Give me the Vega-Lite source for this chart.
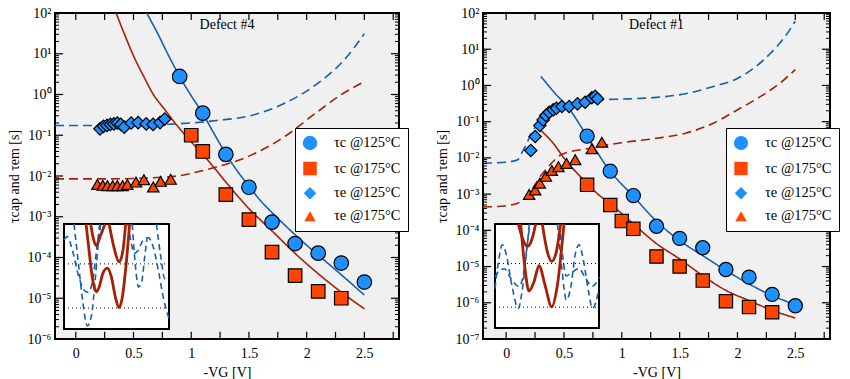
{
"$schema":"https://vega.github.io/schema/vega-lite/v6.json",
"background":"white",
"padding":{"left":6,"top":5,"right":5,"bottom":2},
"config":{
 "font":"Liberation Serif",
 "view":{"fill":"#f0f0f0","stroke":"black","strokeWidth":2},
 "axis":{"domain":false,"grid":false,"ticks":false,"labelColor":"black","titleColor":"black","labelFont":"Liberation Serif","titleFont":"Liberation Serif","labelFontSize":14,"titleFontSize":14,"titleFontWeight":"normal"},
 "legend":{"labelFont":"Liberation Serif"}
},
"datasets":{
 "xt":[{"t":0},{"t":0.25},{"t":0.5},{"t":0.75},{"t":1},{"t":1.25},{"t":1.5},{"t":1.75},{"t":2},{"t":2.25},{"t":2.5},{"t":2.75}],
 "yt":[
  {"t":1e-7,"kind":"major"},{"t":1e-6,"kind":"major"},{"t":1e-5,"kind":"major"},{"t":1e-4,"kind":"major"},{"t":1e-3,"kind":"major"},{"t":1e-2,"kind":"major"},{"t":0.1,"kind":"major"},{"t":1,"kind":"major"},{"t":10,"kind":"major"},{"t":100,"kind":"major"},
  {"t":2e-7,"kind":"minor"},{"t":3e-7,"kind":"minor"},{"t":4e-7,"kind":"minor"},{"t":5e-7,"kind":"minor"},{"t":6e-7,"kind":"minor"},{"t":7e-7,"kind":"minor"},{"t":8e-7,"kind":"minor"},{"t":9e-7,"kind":"minor"},
  {"t":2e-6,"kind":"minor"},{"t":3e-6,"kind":"minor"},{"t":4e-6,"kind":"minor"},{"t":5e-6,"kind":"minor"},{"t":6e-6,"kind":"minor"},{"t":7e-6,"kind":"minor"},{"t":8e-6,"kind":"minor"},{"t":9e-6,"kind":"minor"},
  {"t":2e-5,"kind":"minor"},{"t":3e-5,"kind":"minor"},{"t":4e-5,"kind":"minor"},{"t":5e-5,"kind":"minor"},{"t":6e-5,"kind":"minor"},{"t":7e-5,"kind":"minor"},{"t":8e-5,"kind":"minor"},{"t":9e-5,"kind":"minor"},
  {"t":2e-4,"kind":"minor"},{"t":3e-4,"kind":"minor"},{"t":4e-4,"kind":"minor"},{"t":5e-4,"kind":"minor"},{"t":6e-4,"kind":"minor"},{"t":7e-4,"kind":"minor"},{"t":8e-4,"kind":"minor"},{"t":9e-4,"kind":"minor"},
  {"t":2e-3,"kind":"minor"},{"t":3e-3,"kind":"minor"},{"t":4e-3,"kind":"minor"},{"t":5e-3,"kind":"minor"},{"t":6e-3,"kind":"minor"},{"t":7e-3,"kind":"minor"},{"t":8e-3,"kind":"minor"},{"t":9e-3,"kind":"minor"},
  {"t":0.02,"kind":"minor"},{"t":0.03,"kind":"minor"},{"t":0.04,"kind":"minor"},{"t":0.05,"kind":"minor"},{"t":0.06,"kind":"minor"},{"t":0.07,"kind":"minor"},{"t":0.08,"kind":"minor"},{"t":0.09,"kind":"minor"},
  {"t":0.2,"kind":"minor"},{"t":0.3,"kind":"minor"},{"t":0.4,"kind":"minor"},{"t":0.5,"kind":"minor"},{"t":0.6,"kind":"minor"},{"t":0.7,"kind":"minor"},{"t":0.8,"kind":"minor"},{"t":0.9,"kind":"minor"},
  {"t":2,"kind":"minor"},{"t":3,"kind":"minor"},{"t":4,"kind":"minor"},{"t":5,"kind":"minor"},{"t":6,"kind":"minor"},{"t":7,"kind":"minor"},{"t":8,"kind":"minor"},{"t":9,"kind":"minor"},
  {"t":20,"kind":"minor"},{"t":30,"kind":"minor"},{"t":40,"kind":"minor"},{"t":50,"kind":"minor"},{"t":60,"kind":"minor"},{"t":70,"kind":"minor"},{"t":80,"kind":"minor"},{"t":90,"kind":"minor"}
 ],
 "pts4":[
  {"series":"τc @125°C","x":0.9,"y":2.77},{"series":"τc @125°C","x":1.1,"y":0.35},{"series":"τc @125°C","x":1.3,"y":0.034},{"series":"τc @125°C","x":1.5,"y":0.0053},{"series":"τc @125°C","x":1.7,"y":0.00074},{"series":"τc @125°C","x":1.9,"y":0.00022},{"series":"τc @125°C","x":2.1,"y":0.000128},{"series":"τc @125°C","x":2.3,"y":0.000073},{"series":"τc @125°C","x":2.5,"y":0.000025},
  {"series":"τc @175°C","x":1.0,"y":0.1},{"series":"τc @175°C","x":1.1,"y":0.04},{"series":"τc @175°C","x":1.3,"y":0.0035},{"series":"τc @175°C","x":1.5,"y":0.00085},{"series":"τc @175°C","x":1.7,"y":0.000135},{"series":"τc @175°C","x":1.9,"y":0.000036},{"series":"τc @175°C","x":2.1,"y":0.0000147},{"series":"τc @175°C","x":2.3,"y":0.00001},
  {"series":"τe @125°C","x":0.21,"y":0.144},{"series":"τe @125°C","x":0.24,"y":0.166},{"series":"τe @125°C","x":0.27,"y":0.174},{"series":"τe @125°C","x":0.3,"y":0.184},{"series":"τe @125°C","x":0.33,"y":0.19},{"series":"τe @125°C","x":0.36,"y":0.2},{"series":"τe @125°C","x":0.39,"y":0.184},{"series":"τe @125°C","x":0.42,"y":0.158},{"series":"τe @125°C","x":0.48,"y":0.2},{"series":"τe @125°C","x":0.54,"y":0.204},{"series":"τe @125°C","x":0.61,"y":0.19},{"series":"τe @125°C","x":0.67,"y":0.184},{"series":"τe @125°C","x":0.73,"y":0.205},{"series":"τe @125°C","x":0.77,"y":0.25},
  {"series":"τe @175°C","x":0.187,"y":0.0062},{"series":"τe @175°C","x":0.234,"y":0.0059},{"series":"τe @175°C","x":0.274,"y":0.0058},{"series":"τe @175°C","x":0.32,"y":0.0058},{"series":"τe @175°C","x":0.36,"y":0.0058},{"series":"τe @175°C","x":0.406,"y":0.0058},{"series":"τe @175°C","x":0.447,"y":0.0062},{"series":"τe @175°C","x":0.522,"y":0.0071},{"series":"τe @175°C","x":0.59,"y":0.0081},{"series":"τe @175°C","x":0.671,"y":0.0054},{"series":"τe @175°C","x":0.735,"y":0.0074},{"series":"τe @175°C","x":0.822,"y":0.0083}
 ],
 "lines4":[
  {"temp":"125","proc":"c","x":0.614,"y":100},{"temp":"125","proc":"c","x":0.7,"y":35.5},{"temp":"125","proc":"c","x":0.8,"y":9.5},{"temp":"125","proc":"c","x":0.9,"y":2.75},{"temp":"125","proc":"c","x":1.0,"y":0.93},{"temp":"125","proc":"c","x":1.1,"y":0.34},{"temp":"125","proc":"c","x":1.2,"y":0.107},{"temp":"125","proc":"c","x":1.3,"y":0.035},{"temp":"125","proc":"c","x":1.4,"y":0.0132},{"temp":"125","proc":"c","x":1.5,"y":0.0056},{"temp":"125","proc":"c","x":1.6,"y":0.0025},{"temp":"125","proc":"c","x":1.74,"y":0.00098},{"temp":"125","proc":"c","x":2.0,"y":0.0002},{"temp":"125","proc":"c","x":2.25,"y":0.00005},{"temp":"125","proc":"c","x":2.5,"y":0.000012},
  {"temp":"175","proc":"c","x":0.349,"y":100},{"temp":"175","proc":"c","x":0.42,"y":31},{"temp":"175","proc":"c","x":0.5,"y":8.9},{"temp":"175","proc":"c","x":0.6,"y":2.4},{"temp":"175","proc":"c","x":0.672,"y":1.0},{"temp":"175","proc":"c","x":0.77,"y":0.43},{"temp":"175","proc":"c","x":0.874,"y":0.178},{"temp":"175","proc":"c","x":1.0,"y":0.069},{"temp":"175","proc":"c","x":1.1,"y":0.0339},{"temp":"175","proc":"c","x":1.2,"y":0.0158},{"temp":"175","proc":"c","x":1.3,"y":0.0071},{"temp":"175","proc":"c","x":1.5,"y":0.00158},{"temp":"175","proc":"c","x":1.7,"y":0.00045},{"temp":"175","proc":"c","x":1.9,"y":0.000126},{"temp":"175","proc":"c","x":2.1,"y":0.00004},{"temp":"175","proc":"c","x":2.3,"y":0.0000141},{"temp":"175","proc":"c","x":2.5,"y":0.0000055},
  {"temp":"125","proc":"e","x":-0.18,"y":0.174},{"temp":"125","proc":"e","x":0.2,"y":0.174},{"temp":"125","proc":"e","x":0.5,"y":0.178},{"temp":"125","proc":"e","x":0.8,"y":0.186},{"temp":"125","proc":"e","x":1.0,"y":0.2},{"temp":"125","proc":"e","x":1.22,"y":0.23},{"temp":"125","proc":"e","x":1.51,"y":0.3},{"temp":"125","proc":"e","x":1.8,"y":0.59},{"temp":"125","proc":"e","x":2.09,"y":1.82},{"temp":"125","proc":"e","x":2.32,"y":6.8},{"temp":"125","proc":"e","x":2.5,"y":31},
  {"temp":"175","proc":"e","x":-0.18,"y":0.0085},{"temp":"175","proc":"e","x":0.3,"y":0.0085},{"temp":"175","proc":"e","x":0.6,"y":0.0089},{"temp":"175","proc":"e","x":0.9,"y":0.0102},{"temp":"175","proc":"e","x":1.05,"y":0.0126},{"temp":"175","proc":"e","x":1.22,"y":0.0166},{"temp":"175","proc":"e","x":1.51,"y":0.0316},{"temp":"175","proc":"e","x":1.8,"y":0.089},{"temp":"175","proc":"e","x":2.09,"y":0.37},{"temp":"175","proc":"e","x":2.29,"y":0.95},{"temp":"175","proc":"e","x":2.49,"y":2.0}
 ],
 "pts1":[
  {"series":"τc @125°C","x":0.7,"y":0.04},{"series":"τc @125°C","x":0.9,"y":0.0043},{"series":"τc @125°C","x":1.1,"y":0.00091},{"series":"τc @125°C","x":1.3,"y":0.00013},{"series":"τc @125°C","x":1.5,"y":0.00006},{"series":"τc @125°C","x":1.7,"y":0.000033},{"series":"τc @125°C","x":1.9,"y":0.0000083},{"series":"τc @125°C","x":2.1,"y":0.0000051},{"series":"τc @125°C","x":2.3,"y":0.0000017},{"series":"τc @125°C","x":2.5,"y":0.00000083},
  {"series":"τc @175°C","x":0.7,"y":0.0018},{"series":"τc @175°C","x":0.9,"y":0.0005},{"series":"τc @175°C","x":1.0,"y":0.00018},{"series":"τc @175°C","x":1.1,"y":0.00011},{"series":"τc @175°C","x":1.3,"y":0.000019},{"series":"τc @175°C","x":1.5,"y":0.00001},{"series":"τc @175°C","x":1.7,"y":0.0000041},{"series":"τc @175°C","x":1.9,"y":0.0000011},{"series":"τc @175°C","x":2.1,"y":0.00000076},{"series":"τc @175°C","x":2.3,"y":0.00000055},
  {"series":"τe @125°C","x":0.213,"y":0.016},{"series":"τe @125°C","x":0.251,"y":0.039},{"series":"τe @125°C","x":0.291,"y":0.078},{"series":"τe @125°C","x":0.32,"y":0.112},{"series":"τe @125°C","x":0.343,"y":0.148},{"series":"τe @125°C","x":0.372,"y":0.182},{"series":"τe @125°C","x":0.407,"y":0.212},{"series":"τe @125°C","x":0.435,"y":0.235},{"series":"τe @125°C","x":0.482,"y":0.263},{"series":"τe @125°C","x":0.545,"y":0.263},{"series":"τe @125°C","x":0.617,"y":0.31},{"series":"τe @125°C","x":0.683,"y":0.345},{"series":"τe @125°C","x":0.741,"y":0.457},{"series":"τe @125°C","x":0.77,"y":0.5},{"series":"τe @125°C","x":0.79,"y":0.43},
  {"series":"τe @175°C","x":0.199,"y":0.00098},{"series":"τe @175°C","x":0.251,"y":0.0013},{"series":"τe @175°C","x":0.291,"y":0.002},{"series":"τe @175°C","x":0.343,"y":0.0031},{"series":"τe @175°C","x":0.395,"y":0.0045},{"series":"τe @175°C","x":0.452,"y":0.0057},{"series":"τe @175°C","x":0.522,"y":0.007},{"series":"τe @175°C","x":0.597,"y":0.0089},{"series":"τe @175°C","x":0.741,"y":0.018},{"series":"τe @175°C","x":0.828,"y":0.027}
 ],
 "lines1":[
  {"temp":"125","proc":"c","x":0.3,"y":1.78},{"temp":"125","proc":"c","x":0.415,"y":0.646},{"temp":"125","proc":"c","x":0.545,"y":0.226},{"temp":"125","proc":"c","x":0.695,"y":0.0417},{"temp":"125","proc":"c","x":0.89,"y":0.0047},{"temp":"125","proc":"c","x":1.1,"y":0.00087},{"temp":"125","proc":"c","x":1.3,"y":0.000178},{"temp":"125","proc":"c","x":1.5,"y":0.000052},{"temp":"125","proc":"c","x":1.7,"y":0.00002},{"temp":"125","proc":"c","x":1.9,"y":0.0000078},{"temp":"125","proc":"c","x":2.1,"y":0.0000033},{"temp":"125","proc":"c","x":2.3,"y":0.00000158},{"temp":"125","proc":"c","x":2.5,"y":0.00000089},
  {"temp":"175","proc":"c","x":0.3,"y":0.0575},{"temp":"175","proc":"c","x":0.4,"y":0.0269},{"temp":"175","proc":"c","x":0.516,"y":0.0085},{"temp":"175","proc":"c","x":0.646,"y":0.00295},{"temp":"175","proc":"c","x":0.776,"y":0.00112},{"temp":"175","proc":"c","x":0.934,"y":0.00044},{"temp":"175","proc":"c","x":1.1,"y":0.00015},{"temp":"175","proc":"c","x":1.3,"y":0.000043},{"temp":"175","proc":"c","x":1.5,"y":0.0000162},{"temp":"175","proc":"c","x":1.7,"y":0.0000056},{"temp":"175","proc":"c","x":1.9,"y":0.0000022},{"temp":"175","proc":"c","x":2.1,"y":0.00000115},{"temp":"175","proc":"c","x":2.3,"y":0.00000062},{"temp":"175","proc":"c","x":2.5,"y":0.00000038},
  {"temp":"125","proc":"e","x":-0.2,"y":0.0071},{"temp":"125","proc":"e","x":0.0,"y":0.0076},{"temp":"125","proc":"e","x":0.1,"y":0.0089},{"temp":"125","proc":"e","x":0.13,"y":0.0129},{"temp":"125","proc":"e","x":0.17,"y":0.0219},{"temp":"125","proc":"e","x":0.22,"y":0.05},{"temp":"125","proc":"e","x":0.3,"y":0.1},{"temp":"125","proc":"e","x":0.4,"y":0.19},{"temp":"125","proc":"e","x":0.5,"y":0.263},{"temp":"125","proc":"e","x":0.6,"y":0.33},{"temp":"125","proc":"e","x":0.7,"y":0.38},{"temp":"125","proc":"e","x":0.8,"y":0.4},{"temp":"125","proc":"e","x":1.06,"y":0.427},{"temp":"125","proc":"e","x":1.3,"y":0.468},{"temp":"125","proc":"e","x":1.55,"y":0.59},{"temp":"125","proc":"e","x":1.8,"y":0.955},{"temp":"125","proc":"e","x":1.99,"y":1.51},{"temp":"125","proc":"e","x":2.15,"y":3.16},{"temp":"125","proc":"e","x":2.28,"y":7.4},{"temp":"125","proc":"e","x":2.4,"y":20},{"temp":"125","proc":"e","x":2.5,"y":59},
  {"temp":"175","proc":"e","x":-0.2,"y":0.00044},{"temp":"175","proc":"e","x":0.0,"y":0.00048},{"temp":"175","proc":"e","x":0.1,"y":0.00056},{"temp":"175","proc":"e","x":0.2,"y":0.00107},{"temp":"175","proc":"e","x":0.3,"y":0.0032},{"temp":"175","proc":"e","x":0.4,"y":0.0076},{"temp":"175","proc":"e","x":0.47,"y":0.012},{"temp":"175","proc":"e","x":0.55,"y":0.0148},{"temp":"175","proc":"e","x":0.7,"y":0.0178},{"temp":"175","proc":"e","x":0.85,"y":0.0219},{"temp":"175","proc":"e","x":1.0,"y":0.0263},{"temp":"175","proc":"e","x":1.3,"y":0.0347},{"temp":"175","proc":"e","x":1.55,"y":0.0479},{"temp":"175","proc":"e","x":1.8,"y":0.0933},{"temp":"175","proc":"e","x":1.99,"y":0.204},{"temp":"175","proc":"e","x":2.15,"y":0.398},{"temp":"175","proc":"e","x":2.28,"y":0.724},{"temp":"175","proc":"e","x":2.4,"y":1.41},{"temp":"175","proc":"e","x":2.5,"y":2.75}
 ],
 "in4red":[
  {"curve":"a","u":0.254,"v":1},{"curve":"a","u":0.28,"v":0.86},{"curve":"a","u":0.308,"v":0.794},{"curve":"a","u":0.34,"v":0.87},{"curve":"a","u":0.39,"v":1},
  {"curve":"b","u":0.43,"v":1},{"curve":"b","u":0.48,"v":0.76},{"curve":"b","u":0.524,"v":0.639},{"curve":"b","u":0.56,"v":0.74},{"curve":"b","u":0.587,"v":1},
  {"curve":"c","u":0.21,"v":1},{"curve":"c","u":0.235,"v":0.78},{"curve":"c","u":0.26,"v":0.56},{"curve":"c","u":0.285,"v":0.41},{"curve":"c","u":0.308,"v":0.355},{"curve":"c","u":0.335,"v":0.4},{"curve":"c","u":0.37,"v":0.53},{"curve":"c","u":0.413,"v":0.58},{"curve":"c","u":0.45,"v":0.5},{"curve":"c","u":0.49,"v":0.3},{"curve":"c","u":0.524,"v":0.203},{"curve":"c","u":0.555,"v":0.3},{"curve":"c","u":0.59,"v":0.6},{"curve":"c","u":0.625,"v":1}
 ],
 "in4blue":[
  {"curve":"a","u":0.0,"v":0.85},{"curve":"a","u":0.03,"v":0.88},{"curve":"a","u":0.08,"v":0.75},{"curve":"a","u":0.14,"v":0.5},{"curve":"a","u":0.2,"v":0.36},{"curve":"a","u":0.23,"v":0.35},{"curve":"a","u":0.27,"v":0.45},{"curve":"a","u":0.31,"v":0.75},{"curve":"a","u":0.34,"v":1},
  {"curve":"b","u":0.095,"v":1},{"curve":"b","u":0.14,"v":0.6},{"curve":"b","u":0.18,"v":0.25},{"curve":"b","u":0.222,"v":0.03},{"curve":"b","u":0.26,"v":0.12},{"curve":"b","u":0.3,"v":0.5},{"curve":"b","u":0.33,"v":0.85},{"curve":"b","u":0.35,"v":1},
  {"curve":"c","u":0.61,"v":1},{"curve":"c","u":0.64,"v":0.82},{"curve":"c","u":0.67,"v":0.72},{"curve":"c","u":0.7,"v":0.74},{"curve":"c","u":0.75,"v":0.84},{"curve":"c","u":0.8,"v":0.87},{"curve":"c","u":0.85,"v":0.78},{"curve":"c","u":0.9,"v":0.55},{"curve":"c","u":0.95,"v":0.28},{"curve":"c","u":1.0,"v":0.1},
  {"curve":"d","u":0.65,"v":1},{"curve":"d","u":0.68,"v":0.6},{"curve":"d","u":0.71,"v":0.4},{"curve":"d","u":0.74,"v":0.45},{"curve":"d","u":0.77,"v":0.7},{"curve":"d","u":0.79,"v":0.86},
  {"curve":"e","u":0.88,"v":1},{"curve":"e","u":0.92,"v":0.7},{"curve":"e","u":0.96,"v":0.48},{"curve":"e","u":1.0,"v":0.5}
 ],
 "in1red":[
  {"curve":"a","u":0.224,"v":1},{"curve":"a","u":0.263,"v":0.865},{"curve":"a","u":0.311,"v":0.784},{"curve":"a","u":0.359,"v":0.865},{"curve":"a","u":0.391,"v":1},
  {"curve":"b","u":0.455,"v":1},{"curve":"b","u":0.503,"v":0.735},{"curve":"b","u":0.545,"v":0.64},{"curve":"b","u":0.59,"v":0.735},{"curve":"b","u":0.631,"v":1},
  {"curve":"c","u":0.247,"v":1},{"curve":"c","u":0.288,"v":0.574},{"curve":"c","u":0.327,"v":0.355},{"curve":"c","u":0.375,"v":0.445},{"curve":"c","u":0.423,"v":0.6},{"curve":"c","u":0.481,"v":0.413},{"curve":"c","u":0.545,"v":0.203},{"curve":"c","u":0.6,"v":0.413},{"curve":"c","u":0.663,"v":1}
 ],
 "in1blue":[
  {"curve":"a","u":0.0,"v":0.38},{"curve":"a","u":0.035,"v":0.65},{"curve":"a","u":0.07,"v":0.8},{"curve":"a","u":0.11,"v":0.7},{"curve":"a","u":0.16,"v":0.42},{"curve":"a","u":0.224,"v":0.19},{"curve":"a","u":0.26,"v":0.35},{"curve":"a","u":0.3,"v":0.7},{"curve":"a","u":0.33,"v":1},
  {"curve":"b","u":0.6,"v":1},{"curve":"b","u":0.64,"v":0.6},{"curve":"b","u":0.686,"v":0.27},{"curve":"b","u":0.73,"v":0.4},{"curve":"b","u":0.77,"v":0.7},{"curve":"b","u":0.808,"v":0.8},{"curve":"b","u":0.85,"v":0.65},{"curve":"b","u":0.9,"v":0.35},{"curve":"b","u":0.936,"v":0.19},{"curve":"b","u":0.97,"v":0.25},{"curve":"b","u":1.0,"v":0.38},
  {"curve":"c","u":0.0,"v":0.49},{"curve":"c","u":0.04,"v":0.55},{"curve":"c","u":0.09,"v":0.57},{"curve":"c","u":0.15,"v":0.48},{"curve":"c","u":0.231,"v":0.4},{"curve":"c","u":0.27,"v":0.5},{"curve":"c","u":0.31,"v":0.8},{"curve":"c","u":0.335,"v":1},
  {"curve":"d","u":0.62,"v":1},{"curve":"d","u":0.65,"v":0.7},{"curve":"d","u":0.686,"v":0.5},{"curve":"d","u":0.73,"v":0.53},{"curve":"d","u":0.808,"v":0.57},{"curve":"d","u":0.87,"v":0.48},{"curve":"d","u":0.936,"v":0.4},{"curve":"d","u":0.97,"v":0.43},{"curve":"d","u":1.0,"v":0.49}
 ]
},
"spacing":24,
"resolve":{"scale":{"x":"independent","y":"independent","fill":"independent","shape":"independent","size":"independent","stroke":"independent","strokeDash":"independent"},"legend":{"fill":"independent","shape":"independent","size":"independent"}},
"hconcat":[
 {
  "width":344,"height":326,
  "title":{"text":"Defect #4","offset":-26,"frame":"group","fontSize":14,"fontWeight":"normal","color":"black","font":"Liberation Serif"},
  "layer":[
   {"layer":[
     {"data":{"name":"lines4"},"mark":{"type":"line","clip":true,"strokeWidth":1.6,"interpolate":"monotone"},
      "encoding":{
       "x":{"field":"x","type":"quantitative","scale":{"domain":[-0.18,2.8],"nice":false,"zero":false},"axis":{"orient":"bottom","values":[0,0.5,1,1.5,2,2.5],"format":"~g","labelPadding":7,"title":"-VG  [V]","titlePadding":5}},
       "y":{"field":"y","type":"quantitative","scale":{"type":"log","domain":[0.000001,100],"nice":false},"axis":{"orient":"left","values":[0.000001,0.00001,0.0001,0.001,0.01,0.1,1,10,100],"labelExpr":"'10' + ['⁻⁷','⁻⁶','⁻⁵','⁻⁴','⁻³','⁻²','⁻¹','⁰','¹','²'][round(log(datum.value)/LN10)+7]","labelPadding":4,"title":"τcap and τem [s]","titlePadding":6}},
       "stroke":{"field":"temp","type":"nominal","scale":{"domain":["125","175"],"range":["#1560ad","#a52006"]},"legend":null},
       "strokeDash":{"field":"proc","type":"nominal","scale":{"domain":["c","e"],"range":[[1,0],[9,5]]},"legend":null}
      }},
     {"data":{"name":"xt"},"mark":{"type":"rule","color":"black","opacity":1,"strokeWidth":1.2},
      "encoding":{"x":{"field":"t","type":"quantitative","scale":{"domain":[-0.18,2.8],"nice":false,"zero":false},"axis":null},"y":{"datum":0.000001,"type":"quantitative","scale":{"type":"log","domain":[0.000001,100],"nice":false},"axis":null},"y2":{"datum":0.0000015}}},
     {"data":{"name":"xt"},"mark":{"type":"rule","color":"black","opacity":1,"strokeWidth":1.2},
      "encoding":{"x":{"field":"t","type":"quantitative","scale":{"domain":[-0.18,2.8],"nice":false,"zero":false},"axis":null},"y":{"datum":100,"type":"quantitative","scale":{"type":"log","domain":[0.000001,100],"nice":false},"axis":null},"y2":{"datum":67}}},
     {"data":{"name":"yt"},"transform":[{"filter":"datum.kind=='major' && datum.t>=0.000001"}],"mark":{"type":"rule","color":"black","opacity":1,"strokeWidth":1.2},
      "encoding":{"y":{"field":"t","type":"quantitative","scale":{"type":"log","domain":[0.000001,100],"nice":false},"axis":null},"x":{"datum":-0.18,"type":"quantitative","scale":{"domain":[-0.18,2.8],"nice":false,"zero":false},"axis":null},"x2":{"datum":-0.11}}},
     {"data":{"name":"yt"},"transform":[{"filter":"datum.kind=='major' && datum.t>=0.000001"}],"mark":{"type":"rule","color":"black","opacity":1,"strokeWidth":1.2},
      "encoding":{"y":{"field":"t","type":"quantitative","scale":{"type":"log","domain":[0.000001,100],"nice":false},"axis":null},"x":{"datum":2.8,"type":"quantitative","scale":{"domain":[-0.18,2.8],"nice":false,"zero":false},"axis":null},"x2":{"datum":2.73}}},
     {"data":{"name":"yt"},"transform":[{"filter":"datum.kind=='minor' && datum.t>=0.000001"}],"mark":{"type":"rule","color":"black","opacity":1,"strokeWidth":1},
      "encoding":{"y":{"field":"t","type":"quantitative","scale":{"type":"log","domain":[0.000001,100],"nice":false},"axis":null},"x":{"datum":-0.18,"type":"quantitative","scale":{"domain":[-0.18,2.8],"nice":false,"zero":false},"axis":null},"x2":{"datum":-0.145}}},
     {"data":{"name":"yt"},"transform":[{"filter":"datum.kind=='minor' && datum.t>=0.000001"}],"mark":{"type":"rule","color":"black","opacity":1,"strokeWidth":1},
      "encoding":{"y":{"field":"t","type":"quantitative","scale":{"type":"log","domain":[0.000001,100],"nice":false},"axis":null},"x":{"datum":2.8,"type":"quantitative","scale":{"domain":[-0.18,2.8],"nice":false,"zero":false},"axis":null},"x2":{"datum":2.765}}},
     {"data":{"name":"pts4"},"mark":{"type":"point","filled":true,"opacity":1,"stroke":"black","strokeWidth":1.2},
      "encoding":{
       "x":{"field":"x","type":"quantitative","scale":{"domain":[-0.18,2.8],"nice":false,"zero":false},"axis":null},
       "y":{"field":"y","type":"quantitative","scale":{"type":"log","domain":[0.000001,100],"nice":false},"axis":null},
       "fill":{"field":"series","type":"nominal","scale":{"domain":["τc @125°C","τc @175°C","τe @125°C","τe @175°C"],"range":["#1e90ff","#ff4500","#1e90ff","#ff4500"]},"legend":{"orient":"none","legendX":240,"legendY":115,"title":null,"fillColor":"white","strokeColor":"black","padding":7,"labelFontSize":14.5,"labelOffset":16,"rowPadding":6,"symbolStrokeColor":"black","symbolStrokeWidth":1.2,"symbolOpacity":1,"labelLimit":200}},
       "shape":{"field":"series","type":"nominal","scale":{"domain":["τc @125°C","τc @175°C","τe @125°C","τe @175°C"],"range":["circle","square","diamond","triangle-up"]},"legend":{"orient":"none","legendX":240,"legendY":115,"title":null,"fillColor":"white","strokeColor":"black","padding":7,"labelFontSize":14.5,"labelOffset":16,"rowPadding":6,"symbolStrokeColor":"black","symbolStrokeWidth":1.2,"symbolOpacity":1,"labelLimit":200}},
       "size":{"field":"series","type":"nominal","scale":{"domain":["τc @125°C","τc @175°C","τe @125°C","τe @175°C"],"range":[210,130,120,150]},"legend":{"orient":"none","legendX":240,"legendY":115,"title":null,"fillColor":"white","strokeColor":"black","padding":7,"labelFontSize":14.5,"labelOffset":16,"rowPadding":6,"symbolStrokeColor":"black","symbolStrokeWidth":1.2,"symbolOpacity":1,"labelLimit":200}}
      }}
    ],
    "resolve":{"axis":{"x":"independent","y":"independent"}}},
   {"layer":[
     {"data":{"values":[{}]},"mark":{"type":"rect","fill":"white","stroke":"black","strokeWidth":2},
      "encoding":{"x":{"datum":0,"type":"quantitative","scale":{"domain":[-0.0857,3.19],"nice":false,"zero":false},"axis":null},"x2":{"datum":1},"y":{"datum":0,"type":"quantitative","scale":{"domain":[-0.0952,3.0095],"nice":false,"zero":false},"axis":null},"y2":{"datum":1}}},
     {"data":{"values":[{}]},"mark":{"type":"rule","stroke":"black","strokeDash":[1,3],"strokeWidth":1},
      "encoding":{"x":{"datum":0,"type":"quantitative","scale":{"domain":[-0.0857,3.19],"nice":false,"zero":false},"axis":null},"x2":{"datum":1},"y":{"datum":0.62,"type":"quantitative","scale":{"domain":[-0.0952,3.0095],"nice":false,"zero":false},"axis":null}}},
     {"data":{"values":[{}]},"mark":{"type":"rule","stroke":"black","strokeDash":[1,3],"strokeWidth":1},
      "encoding":{"x":{"datum":0,"type":"quantitative","scale":{"domain":[-0.0857,3.19],"nice":false,"zero":false},"axis":null},"x2":{"datum":1},"y":{"datum":0.2,"type":"quantitative","scale":{"domain":[-0.0952,3.0095],"nice":false,"zero":false},"axis":null}}},
     {"data":{"name":"in4blue"},"mark":{"type":"line","stroke":"#1560ad","strokeWidth":1.6,"strokeDash":[6,4],"interpolate":"monotone"},
      "encoding":{"x":{"field":"u","type":"quantitative","scale":{"domain":[-0.0857,3.19],"nice":false,"zero":false},"axis":null},"y":{"field":"v","type":"quantitative","scale":{"domain":[-0.0952,3.0095],"nice":false,"zero":false},"axis":null},"detail":{"field":"curve"}}},
     {"data":{"name":"in4red"},"mark":{"type":"line","stroke":"#a52006","strokeWidth":2.8,"interpolate":"monotone"},
      "encoding":{"x":{"field":"u","type":"quantitative","scale":{"domain":[-0.0857,3.19],"nice":false,"zero":false},"axis":null},"y":{"field":"v","type":"quantitative","scale":{"domain":[-0.0952,3.0095],"nice":false,"zero":false},"axis":null},"detail":{"field":"curve"}}}
   ]}
  ],
  "resolve":{"scale":{"x":"independent","y":"independent"}}
 },
 {
  "width":347,"height":326,
  "title":{"text":"Defect #1","offset":-26,"frame":"group","fontSize":14,"fontWeight":"normal","color":"black","font":"Liberation Serif"},
  "layer":[
   {"layer":[
     {"data":{"name":"lines1"},"mark":{"type":"line","clip":true,"strokeWidth":1.6,"interpolate":"monotone"},
      "encoding":{
       "x":{"field":"x","type":"quantitative","scale":{"domain":[-0.2,2.8],"nice":false,"zero":false},"axis":{"orient":"bottom","values":[0,0.5,1,1.5,2,2.5],"format":"~g","labelPadding":7,"title":"-VG  [V]","titlePadding":5}},
       "y":{"field":"y","type":"quantitative","scale":{"type":"log","domain":[0.0000001,100],"nice":false},"axis":{"orient":"left","values":[0.0000001,0.000001,0.00001,0.0001,0.001,0.01,0.1,1,10,100],"labelExpr":"'10' + ['⁻⁷','⁻⁶','⁻⁵','⁻⁴','⁻³','⁻²','⁻¹','⁰','¹','²'][round(log(datum.value)/LN10)+7]","labelPadding":4,"title":"τcap and τem [s]","titlePadding":6}},
       "stroke":{"field":"temp","type":"nominal","scale":{"domain":["125","175"],"range":["#1560ad","#a52006"]},"legend":null},
       "strokeDash":{"field":"proc","type":"nominal","scale":{"domain":["c","e"],"range":[[1,0],[9,5]]},"legend":null}
      }},
     {"data":{"name":"xt"},"mark":{"type":"rule","color":"black","opacity":1,"strokeWidth":1.2},
      "encoding":{"x":{"field":"t","type":"quantitative","scale":{"domain":[-0.2,2.8],"nice":false,"zero":false},"axis":null},"y":{"datum":0.0000001,"type":"quantitative","scale":{"type":"log","domain":[0.0000001,100],"nice":false},"axis":null},"y2":{"datum":0.000000156}}},
     {"data":{"name":"xt"},"mark":{"type":"rule","color":"black","opacity":1,"strokeWidth":1.2},
      "encoding":{"x":{"field":"t","type":"quantitative","scale":{"domain":[-0.2,2.8],"nice":false,"zero":false},"axis":null},"y":{"datum":100,"type":"quantitative","scale":{"type":"log","domain":[0.0000001,100],"nice":false},"axis":null},"y2":{"datum":64}}},
     {"data":{"name":"yt"},"transform":[{"filter":"datum.kind=='major'"}],"mark":{"type":"rule","color":"black","opacity":1,"strokeWidth":1.2},
      "encoding":{"y":{"field":"t","type":"quantitative","scale":{"type":"log","domain":[0.0000001,100],"nice":false},"axis":null},"x":{"datum":-0.2,"type":"quantitative","scale":{"domain":[-0.2,2.8],"nice":false,"zero":false},"axis":null},"x2":{"datum":-0.13}}},
     {"data":{"name":"yt"},"transform":[{"filter":"datum.kind=='major'"}],"mark":{"type":"rule","color":"black","opacity":1,"strokeWidth":1.2},
      "encoding":{"y":{"field":"t","type":"quantitative","scale":{"type":"log","domain":[0.0000001,100],"nice":false},"axis":null},"x":{"datum":2.8,"type":"quantitative","scale":{"domain":[-0.2,2.8],"nice":false,"zero":false},"axis":null},"x2":{"datum":2.73}}},
     {"data":{"name":"yt"},"transform":[{"filter":"datum.kind=='minor'"}],"mark":{"type":"rule","color":"black","opacity":1,"strokeWidth":1},
      "encoding":{"y":{"field":"t","type":"quantitative","scale":{"type":"log","domain":[0.0000001,100],"nice":false},"axis":null},"x":{"datum":-0.2,"type":"quantitative","scale":{"domain":[-0.2,2.8],"nice":false,"zero":false},"axis":null},"x2":{"datum":-0.165}}},
     {"data":{"name":"yt"},"transform":[{"filter":"datum.kind=='minor'"}],"mark":{"type":"rule","color":"black","opacity":1,"strokeWidth":1},
      "encoding":{"y":{"field":"t","type":"quantitative","scale":{"type":"log","domain":[0.0000001,100],"nice":false},"axis":null},"x":{"datum":2.8,"type":"quantitative","scale":{"domain":[-0.2,2.8],"nice":false,"zero":false},"axis":null},"x2":{"datum":2.765}}},
     {"data":{"name":"pts1"},"mark":{"type":"point","filled":true,"opacity":1,"stroke":"black","strokeWidth":1.2},
      "encoding":{
       "x":{"field":"x","type":"quantitative","scale":{"domain":[-0.2,2.8],"nice":false,"zero":false},"axis":null},
       "y":{"field":"y","type":"quantitative","scale":{"type":"log","domain":[0.0000001,100],"nice":false},"axis":null},
       "fill":{"field":"series","type":"nominal","scale":{"domain":["τc @125°C","τc @175°C","τe @125°C","τe @175°C"],"range":["#1e90ff","#ff4500","#1e90ff","#ff4500"]},"legend":{"orient":"none","legendX":243,"legendY":115,"title":null,"fillColor":"white","strokeColor":"black","padding":7,"labelFontSize":14.5,"labelOffset":16,"rowPadding":6,"symbolStrokeColor":"black","symbolStrokeWidth":1.2,"symbolOpacity":1,"labelLimit":200}},
       "shape":{"field":"series","type":"nominal","scale":{"domain":["τc @125°C","τc @175°C","τe @125°C","τe @175°C"],"range":["circle","square","diamond","triangle-up"]},"legend":{"orient":"none","legendX":243,"legendY":115,"title":null,"fillColor":"white","strokeColor":"black","padding":7,"labelFontSize":14.5,"labelOffset":16,"rowPadding":6,"symbolStrokeColor":"black","symbolStrokeWidth":1.2,"symbolOpacity":1,"labelLimit":200}},
       "size":{"field":"series","type":"nominal","scale":{"domain":["τc @125°C","τc @175°C","τe @125°C","τe @175°C"],"range":[200,130,120,150]},"legend":{"orient":"none","legendX":243,"legendY":115,"title":null,"fillColor":"white","strokeColor":"black","padding":7,"labelFontSize":14.5,"labelOffset":16,"rowPadding":6,"symbolStrokeColor":"black","symbolStrokeWidth":1.2,"symbolOpacity":1,"labelLimit":200}}
      }}
    ],
    "resolve":{"axis":{"x":"independent","y":"independent"}}},
   {"layer":[
     {"data":{"values":[{}]},"mark":{"type":"rect","fill":"white","stroke":"black","strokeWidth":2},
      "encoding":{"x":{"datum":0,"type":"quantitative","scale":{"domain":[-0.1154,3.2212],"nice":false,"zero":false},"axis":null},"x2":{"datum":1},"y":{"datum":0,"type":"quantitative","scale":{"domain":[-0.1058,3.0288],"nice":false,"zero":false},"axis":null},"y2":{"datum":1}}},
     {"data":{"values":[{}]},"mark":{"type":"rule","stroke":"black","strokeDash":[1,3],"strokeWidth":1},
      "encoding":{"x":{"datum":0,"type":"quantitative","scale":{"domain":[-0.1154,3.2212],"nice":false,"zero":false},"axis":null},"x2":{"datum":1},"y":{"datum":0.62,"type":"quantitative","scale":{"domain":[-0.1058,3.0288],"nice":false,"zero":false},"axis":null}}},
     {"data":{"values":[{}]},"mark":{"type":"rule","stroke":"black","strokeDash":[1,3],"strokeWidth":1},
      "encoding":{"x":{"datum":0,"type":"quantitative","scale":{"domain":[-0.1154,3.2212],"nice":false,"zero":false},"axis":null},"x2":{"datum":1},"y":{"datum":0.2,"type":"quantitative","scale":{"domain":[-0.1058,3.0288],"nice":false,"zero":false},"axis":null}}},
     {"data":{"name":"in1blue"},"mark":{"type":"line","stroke":"#1560ad","strokeWidth":1.6,"strokeDash":[6,4],"interpolate":"monotone"},
      "encoding":{"x":{"field":"u","type":"quantitative","scale":{"domain":[-0.1154,3.2212],"nice":false,"zero":false},"axis":null},"y":{"field":"v","type":"quantitative","scale":{"domain":[-0.1058,3.0288],"nice":false,"zero":false},"axis":null},"detail":{"field":"curve"}}},
     {"data":{"name":"in1red"},"mark":{"type":"line","stroke":"#a52006","strokeWidth":2.8,"interpolate":"monotone"},
      "encoding":{"x":{"field":"u","type":"quantitative","scale":{"domain":[-0.1154,3.2212],"nice":false,"zero":false},"axis":null},"y":{"field":"v","type":"quantitative","scale":{"domain":[-0.1058,3.0288],"nice":false,"zero":false},"axis":null},"detail":{"field":"curve"}}}
   ]}
  ],
  "resolve":{"scale":{"x":"independent","y":"independent"}}
 }
]
}
